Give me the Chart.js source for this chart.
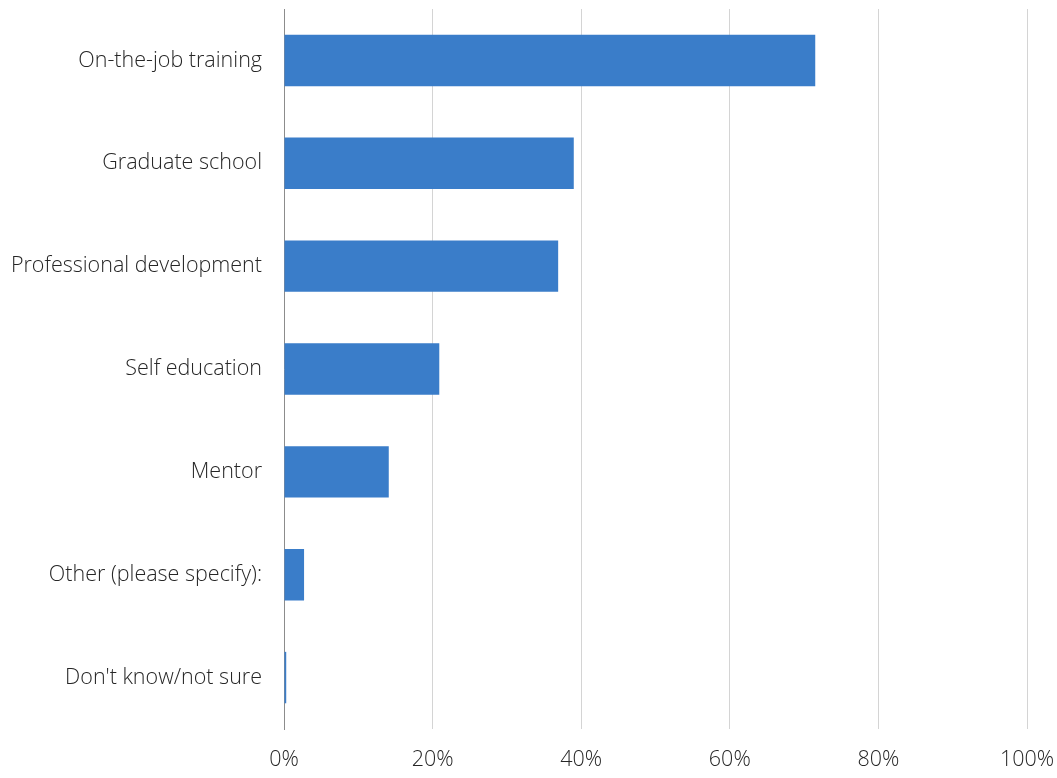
<!DOCTYPE html>
<html>
<head>
<meta charset="utf-8">
<script src="https://cdn.jsdelivr.net/npm/chart.js@4"></script>
<style>
  html, body { margin: 0; padding: 0; background: #fff; }
  #wrap { width: 1057px; height: 778px; }
</style>
</head>
<body>
<div id="wrap"><canvas id="bars"></canvas></div>
<script>
var categories = ['On-the-job training', 'Graduate school', 'Professional development', 'Self education', 'Mentor', 'Other (please specify):', "Don't know/not sure"];
var shares = [71.5, 39.0, 36.9, 20.9, 14.1, 2.7, 0.3];
var xTicks = [0, 20, 40, 60, 80, 100];

var labelFont = { family: "'Open Sans', 'Noto Sans', sans-serif", size: 21.5, weight: '300' };

var ctx = document.getElementById('bars').getContext('2d');
var bars = new Chart(ctx, {
    type: 'bar',
    data: {
        labels: categories,
        datasets: [{
            data: shares,
            backgroundColor: '#3a7dc9',
            borderWidth: 0,
            barPercentage: 0.5,
            categoryPercentage: 1.0
        }]
    },
    options: {
        indexAxis: 'y',
        responsive: true,
        maintainAspectRatio: false,
        animation: false,
        layout: {
            padding: { top: 9, right: 30, bottom: 0, left: 0 }
        },
        plugins: {
            legend: { display: false },
            tooltip: { enabled: false }
        },
        scales: {
            x: {
                min: 0,
                max: 100,
                afterBuildTicks: function (axis) {
                    axis.ticks = xTicks.map(function (v) { return { value: v }; });
                },
                afterFit: function (axis) {
                    axis.height = 49;
                    axis.paddingLeft = 0;
                    axis.paddingRight = 0;
                },
                grid: { color: '#d4d4d4', lineWidth: 1, drawTicks: false },
                border: { display: false },
                ticks: {
                    padding: 18,
                    color: '#262626',
                    font: labelFont,
                    callback: function (v) { return v + '%'; }
                }
            },
            y: {
                afterFit: function (axis) {
                    axis.width = 284;
                    axis.paddingTop = 0;
                    axis.paddingBottom = 0;
                },
                grid: { display: false, drawTicks: false },
                border: { display: true, color: '#8c8c8c', width: 1 },
                ticks: {
                    padding: 22,
                    color: '#262626',
                    font: labelFont
                }
            }
        }
    }
});
</script>
</body>
</html>
